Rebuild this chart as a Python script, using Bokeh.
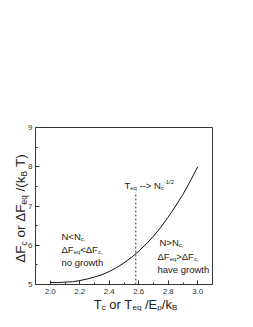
from bokeh.plotting import figure
from bokeh.models import Label, FixedTicker, PrintfTickFormatter, LinearAxis
from bokeh.embed import file_html
from bokeh.resources import INLINE

# ---- data ----
t_vals = [2.00, 2.05, 2.10, 2.15, 2.20, 2.25, 2.30, 2.35, 2.40, 2.45, 2.50,
          2.55, 2.60, 2.65, 2.70, 2.75, 2.80, 2.85, 2.90, 2.95, 3.00]
dF_vals = [5.05, 5.05, 5.06, 5.07, 5.10, 5.14, 5.19, 5.25, 5.33, 5.43, 5.55,
           5.69, 5.85, 6.03, 6.23, 6.46, 6.72, 7.00, 7.30, 7.64, 8.00]
x_ticks = [2.0, 2.2, 2.4, 2.6, 2.8, 3.0]
x_minor = [1.9, 2.1, 2.3, 2.5, 2.7, 2.9, 3.1]
y_ticks = [5, 6, 7, 8, 9]
y_minor = [5.5, 6.5, 7.5, 8.5]
t_eq_mark = 2.58
t_eq_mark_top = 7.35

X0, X1 = 1.9, 3.1
Y0, Y1 = 5, 9

# page geometry (pixels, page top-left origin)
W, H = 237, 311
CX0, CY0 = 8, 8                       # canvas origin on the page
BOX_L, BOX_R, BOX_T, BOX_B = 43, 220, 135, 292
KX = (BOX_R - BOX_L) / (X1 - X0)
KY = (BOX_B - BOX_T) / (Y1 - Y0)
XA = X0 - (BOX_L - CX0) / KX
XB = X1 + (CX0 + W - BOX_R) / KX
YB = Y1 + (BOX_T - CY0) / KY
YA = Y0 - (CY0 + H - BOX_B) / KY

FONT = "Liberation Sans"
INK = "#333333"


def conv(px, py):
    return X0 + (px - BOX_L) / KX, Y0 + (BOX_B - py) / KY


WID = {' ': 278, '(': 333, ')': 333, ',': 278, '-': 333, '/': 278, '1': 556,
       '2': 556, '<': 584, '>': 584, 'B': 667, 'E': 667, 'F': 611, 'N': 722,
       'T': 611, 'a': 556, 'c': 500, 'e': 556, 'g': 556, 'h': 556, 'k': 500,
       'n': 556, 'o': 556, 'p': 556, 'q': 556, 'r': 333, 't': 278, 'v': 500,
       'w': 722, '\u0394': 668}


def tw(s, fs):
    return sum(WID.get(c, 556) for c in s) * fs / 1000.0


def seg_size(kind, fs):
    if kind == 'n':
        return fs, 0.0
    if kind == 'b':
        return fs * 0.62, -fs * 0.25
    return fs * 0.62, fs * 0.42


def total_len(segs, fs):
    return sum(tw(t, seg_size(k, fs)[0]) for t, k in segs)


def place(fig, segs, x, y, fs, angle=0.0, color="#222222"):
    """Lay out text segments starting at page pixel (x, y) on the baseline."""
    pos = 0.0
    for txt, kind in segs:
        size, shift = seg_size(kind, fs)
        lead = len(txt) - len(txt.lstrip(' '))
        pos += tw(' ' * lead, size)          # leading blanks become an offset
        body = txt.lstrip(' ')
        if angle == 0:
            px, py = x + pos, y - shift
        else:
            px, py = x - shift, y - pos
        cx, cy = conv(px, py)
        fig.add_layout(Label(x=cx, y=cy, text=body, text_font=FONT,
                             text_font_size=f"{size:.2f}px", angle=angle,
                             text_align="left", text_baseline="alphabetic",
                             text_color=color))
        pos += tw(body, size)


p = figure(width=W, height=H, x_range=(XA, XB), y_range=(YA, YB),
           output_backend="svg", toolbar_location=None, min_border=0)
p.title.visible = False
p.background_fill_color = "white"
p.border_fill_color = "white"
p.grid.visible = False
p.outline_line_color = None

# bottom and left axes, pinned to the box edges
p.xaxis.fixed_location = Y0
p.yaxis.fixed_location = X0
p.xaxis.bounds = (X0, X1)
p.yaxis.bounds = (Y0, Y1)
p.xaxis.ticker = FixedTicker(ticks=x_ticks, minor_ticks=x_minor)
p.yaxis.ticker = FixedTicker(ticks=y_ticks, minor_ticks=y_minor)
p.xaxis.formatter = PrintfTickFormatter(format="%.1f")
p.yaxis.formatter = PrintfTickFormatter(format="%d")
for ax in (p.xaxis, p.yaxis):
    ax.major_tick_in = 4
    ax.major_tick_out = 0
    ax.minor_tick_in = 2
    ax.minor_tick_out = 0
    ax.axis_line_color = INK
    ax.major_tick_line_color = INK
    ax.minor_tick_line_color = INK
    ax.major_label_text_font = FONT
    ax.major_label_text_font_size = "8px"
    ax.major_label_text_color = INK
p.xaxis.major_label_standoff = 4
p.yaxis.major_label_standoff = 3

# top and right axes close the box
top_ax = LinearAxis(fixed_location=Y1, bounds=(X0, X1), ticker=FixedTicker(ticks=[]),
                    axis_line_color=INK, major_tick_line_color=None,
                    minor_tick_line_color=None, major_label_text_alpha=0)
right_ax = LinearAxis(fixed_location=X1, bounds=(Y0, Y1), ticker=FixedTicker(ticks=[]),
                      axis_line_color=INK, major_tick_line_color=None,
                      minor_tick_line_color=None, major_label_text_alpha=0)
p.add_layout(top_ax, "above")
p.add_layout(right_ax, "right")

p.line(t_vals, dF_vals, line_color="#111111", line_width=1)
p.segment(x0=[t_eq_mark], y0=[Y0], x1=[t_eq_mark], y1=[t_eq_mark_top],
          line_color=INK, line_width=1, line_dash="2 2")

FS = 9.5
place(p, [("T", 'n'), ("eq", 'b'), (" --> N", 'n'), ("c", 'b'), ("-1/2", 'p')], 132, 193, FS)
place(p, [("N<N", 'n'), ("c,", 'b')], 69, 244, FS)
place(p, [("\u0394F", 'n'), ("eq", 'b'), ("<\u0394F", 'n'), ("c,", 'b')], 69, 257, FS)
place(p, [("no growth", 'n')], 69, 270, FS)
place(p, [("N>N", 'n'), ("c,", 'b')], 167, 250, FS)
place(p, [("\u0394F", 'n'), ("eq", 'b'), (">\u0394F", 'n'), ("c,", 'b')], 165, 264, FS)
place(p, [("have growth", 'n')], 165, 277, FS)

TS = 13.5
yt = [("\u0394F", 'n'), ("c", 'b'), (" or \u0394F", 'n'), ("eq", 'b'), (" /(k", 'n'),
      ("B", 'b'), (" T)", 'n')]
L = total_len(yt, TS)
place(p, yt, 28, 216 + L / 2, TS, angle=1.5707963267948966)

XS = 13
xt = [("T", 'n'), ("c", 'b'), (" or T", 'n'), ("eq", 'b'), (" /E", 'n'), ("p", 'b'),
      ("/k", 'n'), ("B", 'b')]
L = total_len(xt, XS)
place(p, xt, 143 - L / 2, 312, XS)

open("out.html", "w").write(file_html(p, INLINE))
